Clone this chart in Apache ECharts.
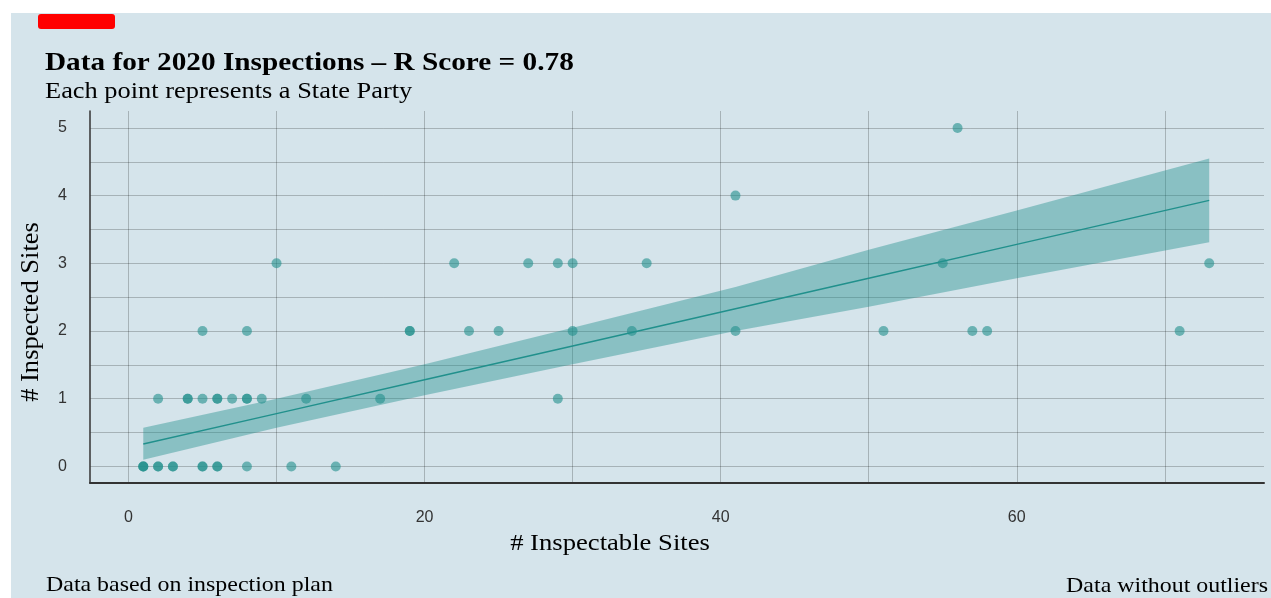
<!DOCTYPE html>
<html><head><meta charset="utf-8">
<script src="https://cdn.jsdelivr.net/npm/echarts@6/dist/echarts.min.js"></script>
<style>html,body{margin:0;padding:0;background:#fff}#c{width:1271px;height:598px}</style>
</head><body><div id="c"></div>
<script>
// Data
const inspectableSites = [
  1,1,1,2,2,3,3,5,5,6,6,8,11,14,
  2,4,4,5,6,6,7,8,8,9,12,17,29,
  5,8,19,19,23,25,30,34,41,51,57,58,71,
  10,22,27,29,30,35,55,73,
  41,
  56
];
const inspectedSites = [
  0,0,0,0,0,0,0,0,0,0,0,0,0,0,
  1,1,1,1,1,1,1,1,1,1,1,1,1,
  2,2,2,2,2,2,2,2,2,2,2,2,2,
  3,3,3,3,3,3,3,3,
  4,
  5
];
const fitX      = [1, 10, 20, 30, 41, 50, 60, 73];
const fitY      = [0.33, 0.78, 1.28, 1.78, 2.33, 2.78, 3.28, 3.93];
const bandLower = [0.10, 0.57, 1.05, 1.51, 2.00, 2.36, 2.78, 3.31];
const bandUpper = [0.57, 1.00, 1.51, 2.05, 2.65, 3.20, 3.78, 4.55];
const xTickValues  = [0, 10, 20, 30, 40, 50, 60, 70];
const xLabelValues = [0, 20, 40, 60];
const yTickValues  = [0, 0.5, 1, 1.5, 2, 2.5, 3, 3.5, 4, 4.5, 5];
const yLabelValues = [0, 1, 2, 3, 4, 5];

const titleText = 'Data for 2020 Inspections – R Score = 0.78';
const subtitleText = 'Each point represents a State Party';
const xTitle = '# Inspectable Sites';
const yTitle = '# Inspected Sites';
const footLeft = 'Data based on inspection plan';
const footRight = 'Data without outliers';

const TEAL = '#21908C';
const serif = '"Liberation Serif", "Times New Roman", serif';
const sans = '"Liberation Sans", Arial, sans-serif';

function txt(text, x, y, size, opts) {
  opts = opts || {};
  return {
    type: 'text', x: x, y: y, z: 10,
    rotation: opts.rotation || 0,
    scaleX: opts.scaleX || 1, scaleY: 1,
    style: {
      text: text, x: 0, y: 0,
      font: (opts.bold ? 'bold ' : '') + size + 'px ' + serif,
      fill: '#000',
      align: opts.align || 'left', textAlign: opts.align || 'left',
      verticalAlign: 'middle', textVerticalAlign: 'middle'
    }
  };
}

const chart = echarts.init(document.getElementById('c'), null, {renderer: 'canvas'});
chart.setOption({
  animation: false,
  backgroundColor: '#ffffff',
  graphic: [
    {type: 'rect', z: -10, shape: {x: 11, y: 13, width: 1260, height: 585}, style: {fill: '#d5e4eb'}},
    {type: 'rect', z: 10, shape: {x: 38, y: 14, width: 77, height: 15, r: 3}, style: {fill: '#ff0000'}},
    txt(titleText, 45, 63, 26, {bold: true, scaleX: 1.125}),
    txt(subtitleText, 45, 92, 24, {scaleX: 1.1}),
    txt(xTitle, 610, 544, 24, {align: 'center', scaleX: 1.11}),
    txt(yTitle, 31, 312, 26, {align: 'center', rotation: Math.PI / 2, scaleX: 1.02}),
    txt(footLeft, 46, 585, 22, {scaleX: 1.087}),
    txt(footRight, 1268, 586, 22, {align: 'right', scaleX: 1.087})
  ],
  grid: {left: 90, right: 7, top: 111, bottom: 115},
  xAxis: {
    type: 'value', min: -2.6, max: 76.7,
    axisLine: {show: true, onZero: false, lineStyle: {color: '#333', width: 2}},
    axisTick: {show: false, customValues: xTickValues},
    axisLabel: {customValues: xLabelValues, margin: 27, fontSize: 16, color: '#333', fontFamily: sans},
    splitLine: {show: true, lineStyle: {color: 'rgba(0,0,0,0.22)', width: 1}}
  },
  yAxis: {
    type: 'value', min: -0.245, max: 5.25,
    axisLine: {show: true, onZero: false, lineStyle: {color: '#333', width: 1.5}},
    axisTick: {show: false, customValues: yTickValues},
    axisLabel: {customValues: yLabelValues, margin: 23, fontSize: 16, color: '#333', fontFamily: sans},
    splitLine: {show: true, lineStyle: {color: 'rgba(0,0,0,0.22)', width: 1}}
  },
  series: [
    {
      type: 'scatter', z: 2,
      data: inspectableSites.map((x, i) => [x, inspectedSites[i]]),
      symbolSize: 10,
      itemStyle: {color: TEAL, opacity: 0.6}
    },
    {
      type: 'custom', z: 3,
      data: [[fitX[0], fitY[0]]],
      renderItem: function (params, api) {
        const up = fitX.map((x, i) => api.coord([x, bandUpper[i]]));
        const lo = fitX.map((x, i) => api.coord([x, bandLower[i]])).reverse();
        return {type: 'polygon', shape: {points: up.concat(lo)}, style: {fill: 'rgba(33,144,140,0.42)'}};
      }
    },
    {
      type: 'line', z: 4,
      data: fitX.map((x, i) => [x, fitY[i]]),
      showSymbol: false, symbol: 'none',
      lineStyle: {color: TEAL, width: 1.5}
    }
  ]
});
</script></body></html>
